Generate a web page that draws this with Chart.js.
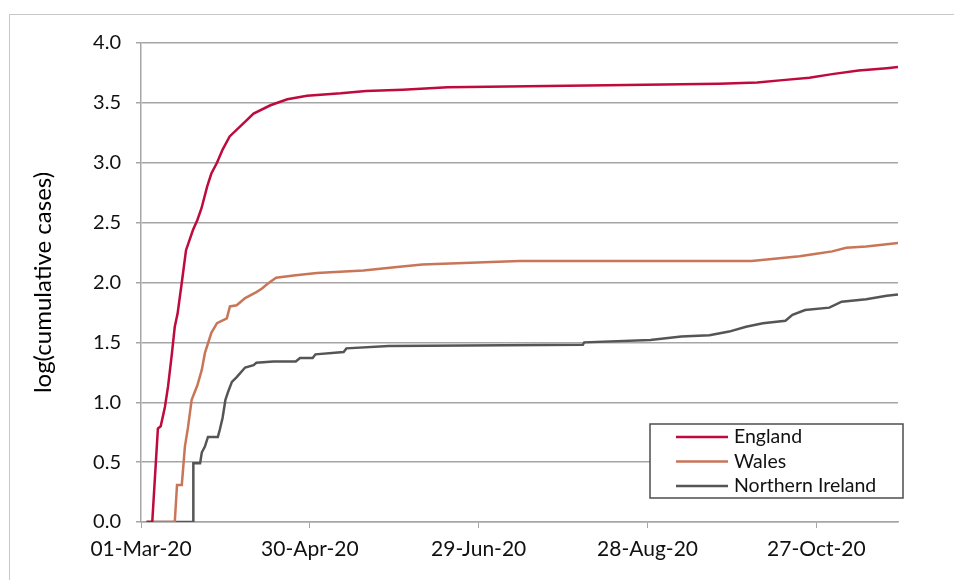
<!DOCTYPE html>
<html>
<head>
<meta charset="utf-8">
<script src="https://cdn.jsdelivr.net/npm/chart.js@4.4.1/dist/chart.umd.min.js"></script>
<style>
  html, body { margin: 0; padding: 0; background: #fff; }
  #wrap { position: relative; width: 954px; height: 580px; }
</style>
</head>
<body>
<div id="wrap"><canvas id="chart" width="954" height="580"></canvas></div>
<script>
// days counted from 01-Mar-20
const tickDays = [0, 60, 120, 180, 240];
const tickLabels = ['01-Mar-20', '30-Apr-20', '29-Jun-20', '28-Aug-20', '27-Oct-20'];
const lastDay = 269;

const englandDays = [2, 4, 6, 7, 8.5, 9.6, 11, 12, 13, 14.5, 16, 18.5, 20, 21.5, 23.5, 25, 27, 29, 31.5, 36, 40, 46, 52, 59, 71, 80, 93, 109, 172.5, 205.5, 219, 228, 237.5, 245.6, 255, 265, 269];
const englandValues = [0, 0, 0.78, 0.80, 0.96, 1.13, 1.41, 1.63, 1.74, 2.0, 2.27, 2.44, 2.52, 2.62, 2.80, 2.91, 3.0, 3.11, 3.22, 3.32, 3.41, 3.48, 3.53, 3.56, 3.58, 3.60, 3.61, 3.63, 3.65, 3.66, 3.67, 3.69, 3.71, 3.74, 3.77, 3.79, 3.80];

const walesDays = [2, 12, 12.8, 14.5, 15.6, 16.7, 18, 20, 21.6, 22.7, 25, 27, 30.5, 31.6, 34, 37, 41, 43, 45, 48, 55, 62.5, 79, 91, 100, 122, 134.5, 217, 226, 234, 240, 245.6, 250.6, 257.7, 265, 269];
const walesValues = [0, 0, 0.31, 0.31, 0.63, 0.79, 1.02, 1.14, 1.27, 1.41, 1.58, 1.66, 1.70, 1.80, 1.81, 1.87, 1.92, 1.95, 1.99, 2.04, 2.06, 2.08, 2.10, 2.13, 2.15, 2.17, 2.18, 2.18, 2.20, 2.22, 2.24, 2.26, 2.29, 2.30, 2.32, 2.33];

const niDays = [2, 18.5, 18.6, 21, 21.6, 22.7, 23.8, 27.3, 28, 29, 30, 31, 32.3, 34, 37, 40, 41, 47, 55, 56.5, 61, 62, 72, 73, 88, 157, 157.5, 181, 192, 202, 209, 215, 221, 229, 231.5, 236, 244.6, 249, 257.7, 265, 269];
const niValues = [0, 0, 0.49, 0.49, 0.58, 0.63, 0.71, 0.71, 0.77, 0.87, 1.02, 1.09, 1.17, 1.21, 1.29, 1.31, 1.33, 1.34, 1.34, 1.37, 1.37, 1.40, 1.42, 1.45, 1.47, 1.48, 1.50, 1.52, 1.55, 1.56, 1.59, 1.63, 1.66, 1.68, 1.73, 1.77, 1.79, 1.84, 1.86, 1.89, 1.90];

const seriesNames = ['England', 'Wales', 'Northern Ireland'];
const seriesColors = ['#BE0A3C', '#C97558', '#555555'];

const FONT = 'Lato, "Open Sans", sans-serif';
const GRID = '#a6a6a6';

function toPoints(days, values) {
    return days.map((d, i) => ({ x: d, y: values[i] }));
}

// grey frame round the whole picture (only top and left show)
const frame = {
    id: 'frame',
    beforeDraw(chart) {
        const ctx = chart.ctx;
        ctx.save();
        ctx.fillStyle = '#fff';
        ctx.fillRect(0, 0, chart.width, chart.height);
        ctx.strokeStyle = '#c8c8c8';
        ctx.lineWidth = 1;
        ctx.strokeRect(9.5, 14.5, 1000, 1000);
        ctx.restore();
    }
};

// boxed legend inside the plot, bottom right
const boxLegend = {
    id: 'boxLegend',
    afterDatasetsDraw(chart) {
        const { ctx, chartArea } = chart;
        const x0 = chartArea.right - 248;
        const y0 = chartArea.bottom - 98;
        const w = 253, h = 74;
        ctx.save();
        ctx.fillStyle = '#fff';
        ctx.fillRect(x0, y0, w, h);
        ctx.strokeStyle = '#4d4d4d';
        ctx.lineWidth = 1.5;
        ctx.strokeRect(x0, y0, w, h);
        ctx.font = '19.5px ' + FONT;
        ctx.textBaseline = 'middle';
        chart.data.datasets.forEach((ds, i) => {
            const y = y0 + 13 + i * 24.5;
            ctx.strokeStyle = ds.borderColor;
            ctx.lineWidth = 2.5;
            ctx.beginPath();
            ctx.moveTo(x0 + 26, y);
            ctx.lineTo(x0 + 78, y);
            ctx.stroke();
            ctx.fillStyle = '#111';
            ctx.fillText(ds.label, x0 + 84, y);
        });
        ctx.restore();
    }
};

const allDays = [englandDays, walesDays, niDays];
const allValues = [englandValues, walesValues, niValues];

new Chart(document.getElementById('chart'), {
    type: 'line',
    data: {
        datasets: seriesNames.map((name, i) => ({
            label: name,
            data: toPoints(allDays[i], allValues[i]),
            borderColor: seriesColors[i],
            backgroundColor: seriesColors[i],
            borderWidth: 2.5,
            pointRadius: 0,
            tension: 0,
            fill: false
        }))
    },
    options: {
        responsive: false,
        animation: false,
        layout: { padding: { left: 0, top: 43, right: 56, bottom: 0 } },
        plugins: {
            legend: { display: false },
            tooltip: { enabled: false }
        },
        scales: {
            x: {
                type: 'linear',
                min: 0,
                max: lastDay,
                afterFit: s => { s.height = 58; },
                afterBuildTicks: s => { s.ticks = tickDays.map(v => ({ value: v })); },
                grid: { drawOnChartArea: false, drawTicks: true, tickLength: 6, color: GRID },
                border: { display: true, color: GRID, width: 1.5 },
                ticks: {
                    padding: 9,
                    maxRotation: 0,
                    autoSkip: false,
                    color: '#111',
                    font: { family: FONT, size: 21 },
                    callback: v => tickLabels[tickDays.indexOf(v)]
                }
            },
            y: {
                min: 0,
                max: 4,
                afterFit: s => { s.width = 141; },
                grid: { color: GRID, lineWidth: 1.5, tickLength: 5 },
                border: { display: true, color: GRID, width: 1.5 },
                ticks: {
                    stepSize: 0.5,
                    padding: 15,
                    color: '#111',
                    font: { family: FONT, size: 20 },
                    callback: v => v.toFixed(1)
                },
                title: {
                    display: true,
                    text: 'log(cumulative cases)',
                    color: '#000',
                    font: { family: FONT, size: 24 },
                    padding: { top: 29, bottom: 0 }
                }
            }
        }
    },
    plugins: [frame, boxLegend]
});
</script>
</body>
</html>
